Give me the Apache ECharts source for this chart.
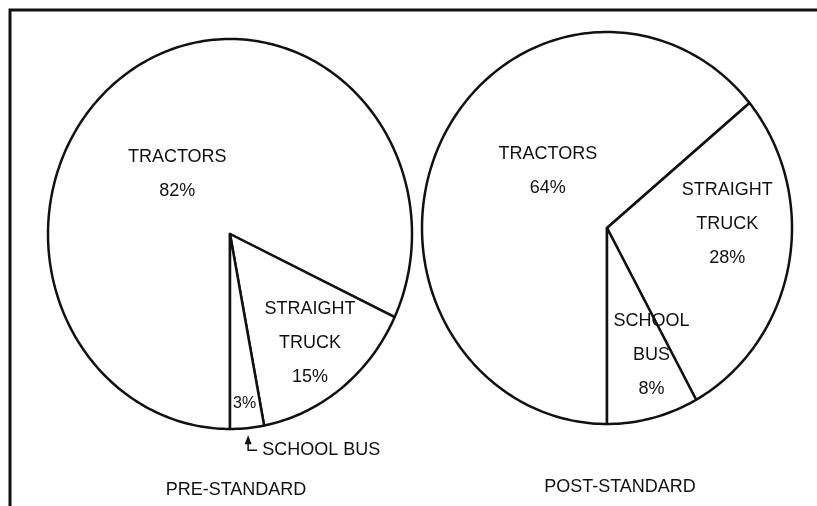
<!DOCTYPE html>
<html>
<head>
<meta charset="utf-8">
<title>Pre / post standard</title>
<script src="https://cdn.jsdelivr.net/npm/echarts@6/dist/echarts.min.js"></script>
<style>
  html, body { margin: 0; padding: 0; background: #fff; }
  #chart { width: 817px; height: 506px; }
</style>
</head>
<body>
<div id="chart"></div>
<script>
// data
const sliceNames = ['TRACTORS', 'STRAIGHT TRUCK', 'SCHOOL BUS'];
const preValues = [82, 15, 3];
const postValues = [64, 28, 8];
const panelTitles = ['PRE-STANDARD', 'POST-STANDARD'];

// where each slice's text sits, in unit radius of its pie
const labelSpots = [
    [[-0.29, 0.31], [0.44, -0.56], [0.08, -0.87]],
    [[-0.32, 0.29], [0.65, 0.02], [0.24, -0.65]]
];

const INK = '#111';
const FAMILY = '"Liberation Sans", Arial, Helvetica, sans-serif';

// cumulative start for every slice, so the custom series can draw the wedge
function pieData(values) {
    let acc = 0;
    return values.map(function (v, i) {
        const item = { name: sliceNames[i], value: [0, 0, acc, v] };
        acc += v;
        return item;
    });
}

function makeRenderItem(panel) {
    return function (params, api) {
        const start = api.value(2);
        const val = api.value(3);
        // slices start at 6 o'clock and run clockwise
        const a0 = Math.PI + start / 100 * 2 * Math.PI;
        const a1 = Math.PI + (start + val) / 100 * 2 * Math.PI;
        const at = (r, a) => api.coord([r * Math.sin(a), r * Math.cos(a)]);

        const pts = [api.coord([0, 0])];
        const steps = Math.max(2, Math.ceil((a1 - a0) / 0.02));
        for (let k = 0; k <= steps; k++) {
            pts.push(at(1, a0 + (a1 - a0) * k / steps));
        }

        const children = [{
            type: 'polygon',
            shape: { points: pts },
            style: { fill: '#fff', stroke: INK, lineWidth: 2.5, lineJoin: 'round' }
        }];

        const spot = labelSpots[panel][params.dataIndex];
        const pos = api.coord(spot);
        const small = val < 5;
        const text = small ? val + '%' : sliceNames[params.dataIndex].replace(' ', '\n') + '\n' + val + '%';
        children.push({
            type: 'text',
            x: pos[0],
            y: pos[1],
            style: {
                text: text,
                fill: INK,
                font: (small ? 16 : 18) + 'px ' + FAMILY,
                align: 'center',
                verticalAlign: 'middle',
                lineHeight: 34
            }
        });

        // a thin slice gets its name outside, with an arrow
        if (small) {
            const edge = at(1, (a0 + a1) / 2);
            const tx = edge[0] + 1;
            const ty = edge[1] + 8;
            children.push({
                type: 'polyline',
                shape: { points: [[tx, ty + 4], [tx, ty + 14], [tx + 9, ty + 14]] },
                style: { stroke: INK, lineWidth: 1.5, fill: null }
            });
            children.push({
                type: 'polygon',
                shape: { points: [[tx, ty - 1], [tx - 3.5, ty + 8], [tx + 3.5, ty + 8]] },
                style: { fill: INK }
            });
            children.push({
                type: 'text',
                x: tx + 14,
                y: ty + 14,
                style: {
                    text: sliceNames[params.dataIndex],
                    fill: INK,
                    font: '18px ' + FAMILY,
                    align: 'left',
                    verticalAlign: 'middle'
                }
            });
        }
        return { type: 'group', children: children };
    };
}

const chart = echarts.init(document.getElementById('chart'));

const hiddenAxis = function (i) {
    return { type: 'value', gridIndex: i, min: -1, max: 1, show: false };
};

chart.setOption({
    animation: false,
    backgroundColor: '#fff',
    grid: [
        { left: 48, top: 39, width: 364, height: 390 },
        { left: 422, top: 32, width: 370, height: 392 }
    ],
    xAxis: [hiddenAxis(0), hiddenAxis(1)],
    yAxis: [hiddenAxis(0), hiddenAxis(1)],
    series: [preValues, postValues].map(function (vals, i) {
        return {
            type: 'custom',
            name: panelTitles[i],
            xAxisIndex: i,
            yAxisIndex: i,
            encode: { x: 0, y: 1 },
            renderItem: makeRenderItem(i),
            data: pieData(vals)
        };
    }),
    graphic: [
        {
            type: 'polyline',
            shape: { points: [[10, 506], [10, 10], [817, 10]] },
            style: { stroke: INK, lineWidth: 3, fill: null }
        },
        {
            type: 'text', x: 236, y: 490,
            style: { text: panelTitles[0], fill: INK, font: '18px ' + FAMILY, align: 'center', verticalAlign: 'middle' }
        },
        {
            type: 'text', x: 620, y: 487,
            style: { text: panelTitles[1], fill: INK, font: '18px ' + FAMILY, align: 'center', verticalAlign: 'middle' }
        }
    ]
});

window.addEventListener('resize', function () {
    chart.resize();
});
</script>
</body>
</html>
